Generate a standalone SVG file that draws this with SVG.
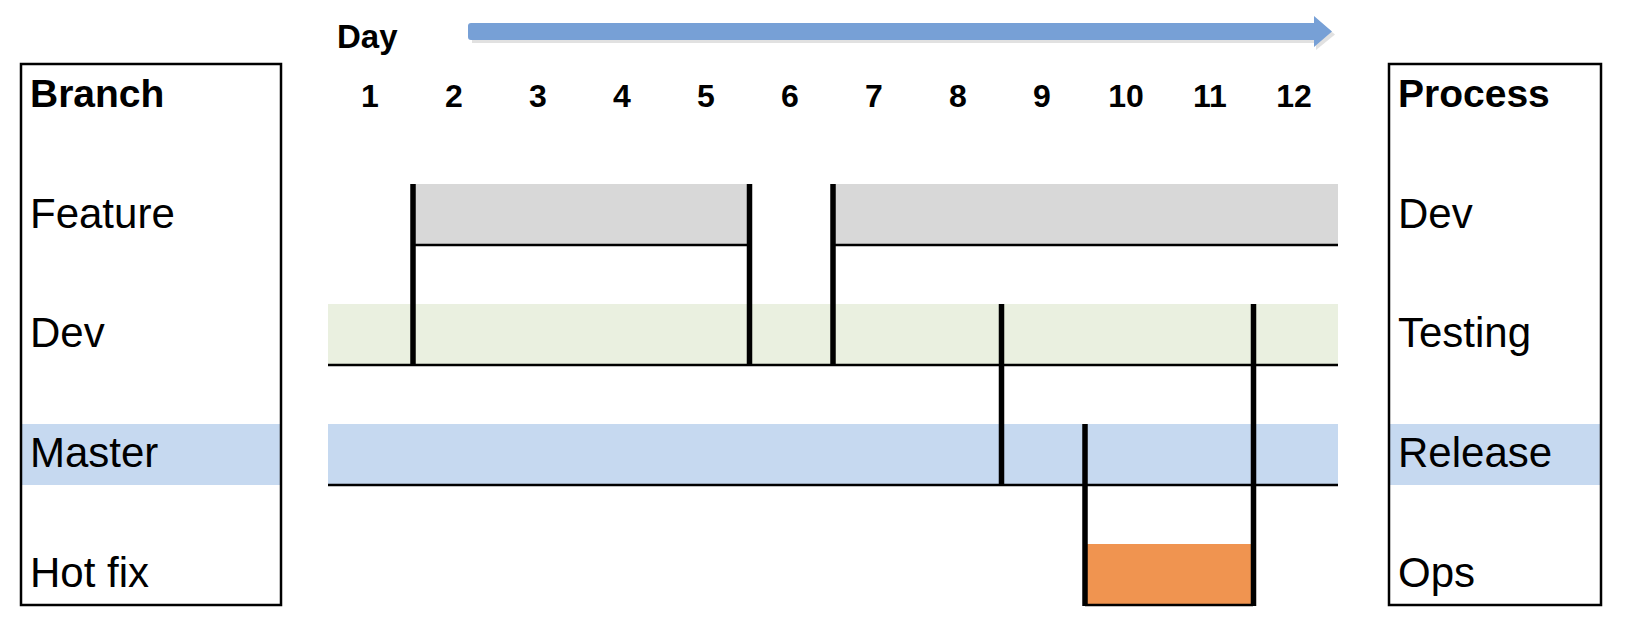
<svg xmlns="http://www.w3.org/2000/svg" width="1626" height="634" viewBox="0 0 1626 634">
<style>
.lbl{font-family:"Liberation Sans",Arial,sans-serif;font-size:42px;fill:#000}
.hdr{font-family:"Liberation Sans",Arial,sans-serif;font-size:39px;font-weight:bold;fill:#000}
.num{font-family:"Liberation Sans",Arial,sans-serif;font-size:32px;font-weight:bold;fill:#000;text-anchor:middle}
.box{fill:none;stroke:#000;stroke-width:2.5}
.hl{stroke:#000;stroke-width:2.5}
.vl{stroke:#000;stroke-width:5.5}
.gray{fill:#d8d8d8}
.green{fill:#eaf0e0}
.blue{fill:#c6d9f0}
.orange{fill:#f09450}
</style>
<rect width="1626" height="634" fill="#fff"/>

<g id="time-arrow">
  <path d="M472 26 L1316 26 L1316 19 L1335 34.5 L1316 50 L1316 43 L472 43 Z" fill="#bdbdbd" opacity="0.45"/>
  <path d="M471 23 L1314 23 L1314 16 L1332 31.5 L1314 47 L1314 40 L471 40 Q468 40 468 37 L468 26 Q468 23 471 23 Z" fill="#77a0d6"/>
  <text x="337" y="48" class="hdr" style="font-size:33px">Day</text>
</g>

<g id="day-numbers">
  <text x="370" y="107" class="num">1</text>
  <text x="454" y="107" class="num">2</text>
  <text x="538" y="107" class="num">3</text>
  <text x="622" y="107" class="num">4</text>
  <text x="706" y="107" class="num">5</text>
  <text x="790" y="107" class="num">6</text>
  <text x="874" y="107" class="num">7</text>
  <text x="958" y="107" class="num">8</text>
  <text x="1042" y="107" class="num">9</text>
  <text x="1126" y="107" class="num">10</text>
  <text x="1210" y="107" class="num">11</text>
  <text x="1294" y="107" class="num">12</text>
</g>

<g id="branch-box">
  <rect x="22" y="424" width="259" height="61" class="blue"/>
  <rect x="21" y="64" width="260" height="541" class="box"/>
  <text x="30" y="107" class="hdr">Branch</text>
  <text x="30" y="228" class="lbl">Feature</text>
  <text x="30" y="347" class="lbl">Dev</text>
  <text x="30" y="467" class="lbl">Master</text>
  <text x="30" y="587" class="lbl">Hot fix</text>
</g>

<g id="process-box">
  <rect x="1390" y="424" width="211" height="61" class="blue"/>
  <rect x="1389" y="64" width="212" height="541" class="box"/>
  <text x="1398" y="107" class="hdr">Process</text>
  <text x="1398" y="228" class="lbl">Dev</text>
  <text x="1398" y="347" class="lbl">Testing</text>
  <text x="1398" y="467" class="lbl">Release</text>
  <text x="1398" y="587" class="lbl">Ops</text>
</g>

<g id="feature-branch-1">
  <rect x="413" y="184" width="336" height="61" class="gray"/>
  <line x1="413" y1="245" x2="749" y2="245" class="hl"/>
</g>
<g id="feature-branch-2">
  <rect x="833" y="184" width="505" height="61" class="gray"/>
  <line x1="833" y1="245" x2="1338" y2="245" class="hl"/>
</g>
<g id="dev-branch">
  <rect x="328" y="304" width="1010" height="61" class="green"/>
  <line x1="328" y1="365" x2="1338" y2="365" class="hl"/>
</g>
<g id="master-branch">
  <rect x="328" y="424" width="1010" height="61" class="blue"/>
  <line x1="328" y1="485" x2="1338" y2="485" class="hl"/>
</g>
<g id="hotfix-branch">
  <rect x="1085" y="544" width="168" height="61" class="orange"/>
  <line x1="1085" y1="605" x2="1253" y2="605" class="hl"/>
</g>

<g id="connectors">
  <line x1="413" y1="184" x2="413" y2="366" class="vl"/>
  <line x1="749.5" y1="184" x2="749.5" y2="366" class="vl"/>
  <line x1="833" y1="184" x2="833" y2="366" class="vl"/>
  <line x1="1001.5" y1="304" x2="1001.5" y2="486" class="vl"/>
  <line x1="1085" y1="424" x2="1085" y2="606" class="vl"/>
  <line x1="1253.5" y1="304" x2="1253.5" y2="606" class="vl"/>
</g>
</svg>
